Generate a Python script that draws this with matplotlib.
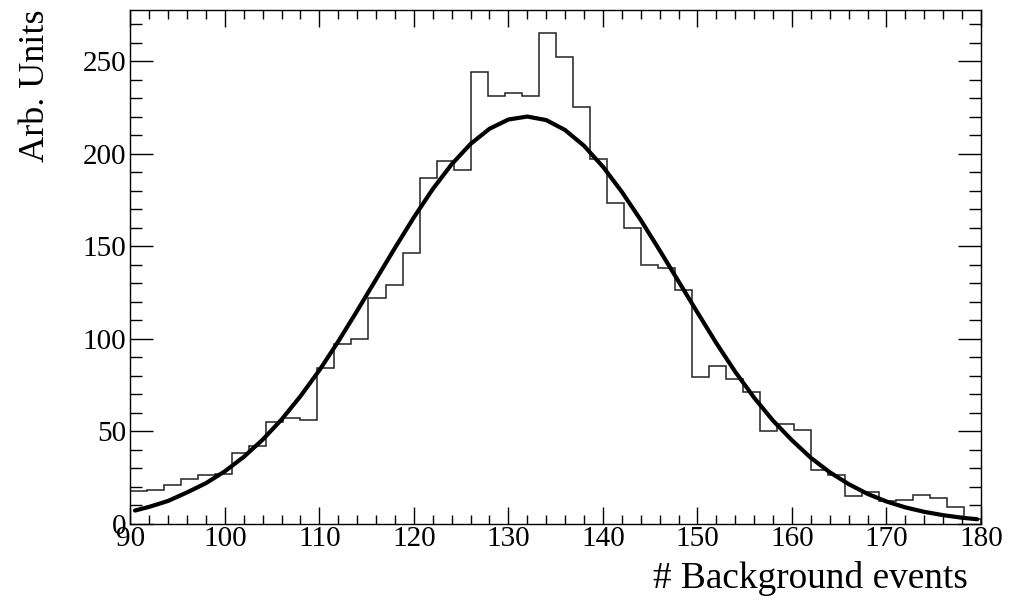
import numpy as np
import matplotlib
matplotlib.use("Agg")
import matplotlib.pyplot as plt
from matplotlib.ticker import MultipleLocator

plt.rcParams['font.family'] = ['Liberation Serif', 'DejaVu Serif']

# histogram: 50 bins between 90 and 180
x_min, x_max, n_bins = 90, 180, 50
counts = [17.5, 18, 21, 24, 26, 26.5, 38, 42, 55, 57,
          56, 84, 97, 100, 122, 129, 146, 187, 196, 191,
          244, 231, 233, 231, 265, 252, 225, 197, 173, 160,
          140, 138, 126, 79, 85, 78, 71, 50, 54, 50.5,
          29, 26, 15, 17, 12, 12.7, 15.4, 14, 8.7, 2.3]

# fitted curve, points (every ~2 units)
fit_x = [90.5, 92, 94, 96, 98, 100, 102, 104, 106, 108,
         110, 112, 114, 116, 118, 120, 122, 124, 126, 128,
         130, 132, 134, 136, 138, 140, 142, 144, 146, 148,
         150, 152, 154, 156, 158, 160, 162, 164, 166, 168,
         170, 172, 174, 176, 178, 179.6]
fit_y = [7.0, 9.0, 12.2, 16.8, 21.8, 28.2, 36.0, 45.3, 56.2, 68.8,
         82.8, 98.4, 115.0, 132.0, 149.0, 165.5, 180.8, 194.2, 205.2, 213.4,
         218.4, 220.0, 218.1, 212.7, 204.2, 192.9, 179.3, 164.1, 147.7, 130.9,
         114.1, 97.5, 82.0, 68.0, 55.6, 45.0, 35.5, 27.7, 21.3, 16.0,
         11.9, 8.7, 6.3, 4.5, 3.1, 2.3]

edges = np.linspace(x_min, x_max, n_bins + 1)

fig = plt.figure(figsize=(10.21, 6.01), dpi=100)
ax = fig.add_axes([130.3 / 1021, 1 - 523.5 / 601, (981 - 130.3) / 1021, (523.5 - 10) / 601])

ax.stairs(counts, edges, color='#222222', lw=1.1, baseline=0)
ax.plot(fit_x, fit_y, color='black', lw=3.0, solid_capstyle='round', solid_joinstyle='round')

ax.set_xlim(x_min, x_max)
ax.set_ylim(0, 277.6)

ax.xaxis.set_major_locator(MultipleLocator(10))
ax.xaxis.set_minor_locator(MultipleLocator(2))
ax.yaxis.set_major_locator(MultipleLocator(50))
ax.yaxis.set_minor_locator(MultipleLocator(10))

ax.tick_params(axis='both', which='both', direction='in', top=True, right=True,
               labelsize=21, width=1, color='black')
ax.tick_params(axis='x', which='major', length=12.5, pad=2)
ax.tick_params(axis='x', which='minor', length=6.5)
ax.tick_params(axis='y', which='major', length=16.5, pad=3)
ax.tick_params(axis='y', which='minor', length=8.5)
for s in ax.spines.values():
    s.set_linewidth(1.0)

fig.text(35 / 1021, 1 - 10 / 601, 'Arb. Units', rotation=90, ha='center', va='top', fontsize=26)
fig.text(968 / 1021, 1 - 578 / 601, '# Background events', ha='right', va='center', fontsize=26.8)

fig.savefig('out.png', dpi=100)
